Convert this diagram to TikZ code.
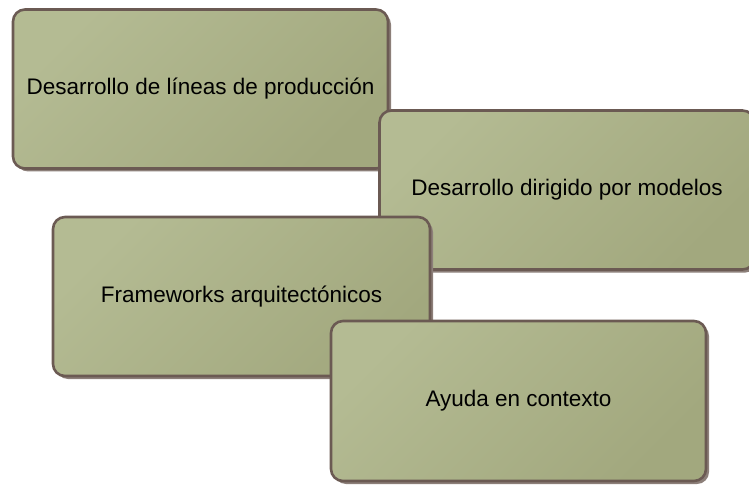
\documentclass[tikz,border=0pt]{standalone}
\usepackage{fontspec}
\setmainfont{Liberation Sans}
\usetikzlibrary{shadows}
\definecolor{olivelight}{HTML}{B4BB93}
\definecolor{olivedark}{HTML}{A2A87E}
\definecolor{boxborder}{HTML}{6B5A53}
\definecolor{boxshadow}{HTML}{8C7F79}

\begin{document}
\begin{tikzpicture}[
  x=1bp,y=-1bp,
  font=\fontsize{22.5bp}{26bp}\selectfont,
  idea/.style={rectangle,rounded corners=12bp,draw=boxborder,line width=2.6bp,
               left color=olivelight,right color=olivedark,shading angle=45,
               minimum width=375bp,minimum height=159bp,align=center,
               drop shadow={shadow xshift=3bp,shadow yshift=-3bp,fill=boxshadow,opacity=1}},
]
\useasboundingbox (0,0) rectangle (749,486);
\clip (0,0) rectangle (749,486);
\node[idea] (lineas) at (200.5,89) {Desarrollo de líneas de producción};
\node[idea] (modelos) at (567,190) {Desarrollo dirigido por modelos};
\node[idea,minimum width=377bp] (frameworks) at (241.5,296.5) {Frameworks arquitectónicos};
\node[idea,minimum height=160bp] (ayuda) at (518.5,401) {Ayuda en contexto};
\end{tikzpicture}
\end{document}
